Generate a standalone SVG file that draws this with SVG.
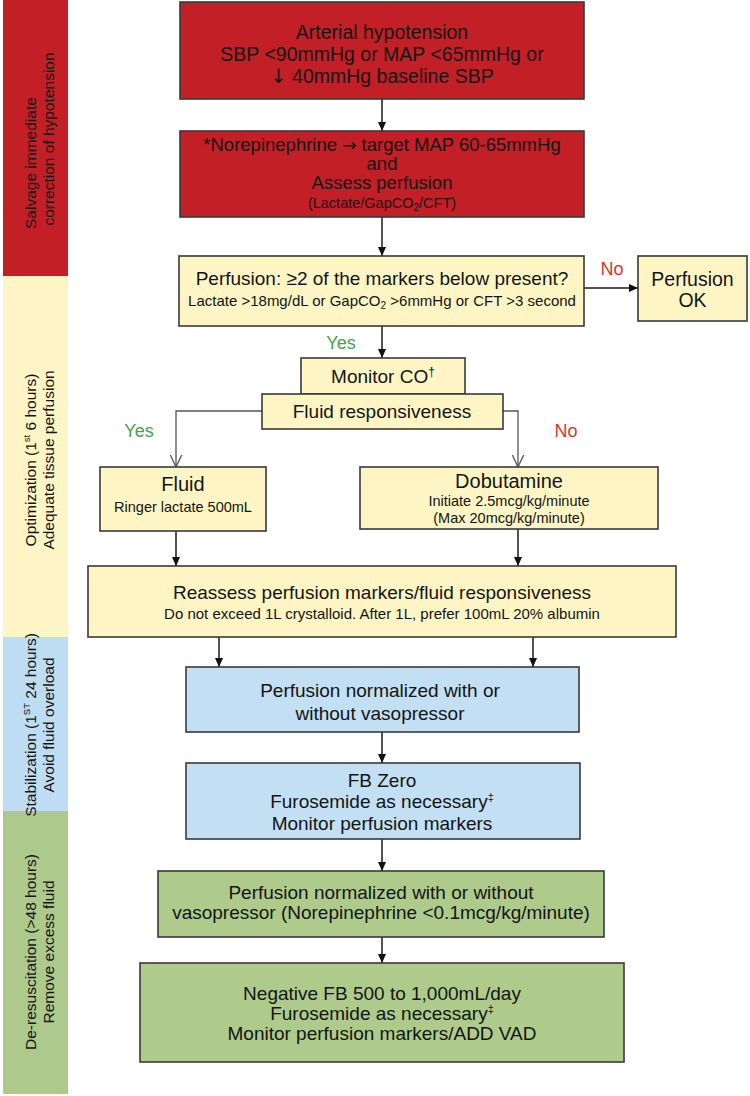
<svg xmlns="http://www.w3.org/2000/svg" width="750" height="1096" viewBox="0 0 750 1096">
<defs>
<style>
text{font-family:"Liberation Sans",Arial,sans-serif;fill:#141414;text-anchor:middle}
.ar{font-family:"DejaVu Sans",sans-serif}
.bx{stroke:#3a3a3a;stroke-width:1.6}
.red{fill:#C21F26}
.yel{fill:#FDF6C4}
.blu{fill:#C3DFF3}
.grn{fill:#AECB8C}
.t19{font-size:19px}
.t18{font-size:18.5px}
.t15{font-size:15px}
.t14{font-size:14.5px}
.side{font-size:15.5px}
.yes{fill:#4AA050;font-size:18px}
.no{fill:#D8352A;font-size:18px}
.cn{stroke:#1a1a1a;stroke-width:1.5;fill:none}
.cv{stroke:#555;stroke-width:1.3;fill:none}
</style>
<marker id="ah" viewBox="0 0 10 10" refX="10" refY="5" markerWidth="9" markerHeight="9" markerUnits="userSpaceOnUse" orient="auto"><path d="M0,0.5 L10,5 L0,9.5 z" fill="#111"/></marker>
<marker id="av" viewBox="0 0 10 10" refX="9.5" refY="5" markerWidth="13" markerHeight="13" markerUnits="userSpaceOnUse" orient="auto"><path d="M0,0.5 L9.5,5 L0,9.5" fill="none" stroke="#555" stroke-width="1"/></marker>
</defs>
<rect width="750" height="1096" fill="#ffffff"/>

<g id="sidebar">
<rect x="3" y="0" width="65" height="276" class="red"/>
<rect x="3" y="276" width="65" height="361" fill="#FEF5C6"/>
<rect x="3" y="637" width="65" height="174" fill="#BFDDF2"/>
<rect x="3" y="811" width="65" height="283" fill="#ADC98B"/>
<text class="side" transform="translate(0,229) rotate(-90)" style="text-anchor:start" x="0" y="36">Salvage immediate</text>
<text class="side" transform="translate(0,139) rotate(-90)" x="0" y="54">correction of hypotension</text>
<text class="side" transform="translate(0,460) rotate(-90)"><tspan x="0" y="36">Optimization (1<tspan font-size="9.5" dy="-6">st</tspan><tspan dy="6"> 6 hours)</tspan></tspan><tspan x="0" y="54">Adequate tissue perfusion</tspan></text>
<text class="side" transform="translate(0,725) rotate(-90)"><tspan x="0" y="36">Stabilization (1<tspan font-size="9.5" dy="-6">ST</tspan><tspan dy="6"> 24 hours)</tspan></tspan><tspan x="0" y="54">Avoid fluid overload</tspan></text>
<text class="side" transform="translate(0,952) rotate(-90)"><tspan x="0" y="36">De-resuscitation (&gt;48 hours)</tspan><tspan x="0" y="54">Remove excess fluid</tspan></text>
</g>

<g id="connectors">
<line class="cn" x1="382" y1="99" x2="382" y2="131" marker-end="url(#ah)"/>
<line class="cn" x1="382" y1="217" x2="382" y2="256" marker-end="url(#ah)"/>
<line class="cn" x1="584" y1="288" x2="638" y2="288" marker-end="url(#ah)"/>
<line class="cn" x1="382" y1="326" x2="382" y2="358" marker-end="url(#ah)"/>
<polyline class="cv" points="262,411 176,411 176,467" marker-end="url(#av)"/>
<polyline class="cv" points="503,411 518,411 518,467" marker-end="url(#av)"/>
<line class="cn" x1="176" y1="531" x2="176" y2="566" marker-end="url(#ah)"/>
<line class="cn" x1="518" y1="529" x2="518" y2="566" marker-end="url(#ah)"/>
<line class="cn" x1="219" y1="637" x2="219" y2="667" marker-end="url(#ah)"/>
<line class="cn" x1="533" y1="637" x2="533" y2="667" marker-end="url(#ah)"/>
<line class="cn" x1="382" y1="732" x2="382" y2="763" marker-end="url(#ah)"/>
<line class="cn" x1="382" y1="839" x2="382" y2="871" marker-end="url(#ah)"/>
<line class="cn" x1="382" y1="937" x2="382" y2="963" marker-end="url(#ah)"/>
<text class="no" x="612" y="275">No</text>
<text class="yes" x="341" y="349">Yes</text>
<text class="yes" x="139" y="437">Yes</text>
<text class="no" x="566" y="437">No</text>
</g>

<g id="n-hypotension">
<rect x="180" y="2" width="404" height="97" class="bx red"/>
<text style="font-size:19.5px"><tspan x="382" y="39">Arterial hypotension</tspan><tspan x="382" y="61">SBP &lt;90mmHg or MAP &lt;65mmHg or</tspan><tspan x="382" y="83"><tspan class="ar">↓</tspan> 40mmHg baseline SBP</tspan></text>
</g>

<g id="n-norepinephrine">
<rect x="180" y="131" width="404" height="86" class="bx red"/>
<text class="t18"><tspan x="382" y="151">*Norepinephrine <tspan class="ar" font-size="17">→</tspan> target MAP 60-65mmHg</tspan><tspan x="382" y="170">and</tspan><tspan x="382" y="189">Assess perfusion</tspan></text>
<text class="t14" x="382" y="208">(Lactate/GapCO<tspan font-size="10" dy="3">2</tspan><tspan dy="-3">/CFT)</tspan></text>
</g>

<g id="n-perfusion-check">
<rect x="179" y="256" width="405" height="70" class="bx yel"/>
<text class="t19" x="382" y="285">Perfusion: ≥2 of the markers below present?</text>
<text class="t15" x="382" y="306">Lactate &gt;18mg/dL or GapCO<tspan font-size="10" dy="3">2</tspan><tspan dy="-3"> &gt;6mmHg or CFT &gt;3 second</tspan></text>
</g>

<g id="n-perfusion-ok">
<rect x="638" y="256" width="109" height="65" class="bx yel"/>
<text style="font-size:19.5px"><tspan x="692.5" y="286">Perfusion</tspan><tspan x="692.5" y="307">OK</tspan></text>
</g>

<g id="n-monitor-co">
<rect x="301" y="358" width="164" height="36" class="bx yel"/>
<text class="t19" x="383" y="383">Monitor CO<tspan font-size="12" dy="-7">†</tspan></text>
</g>

<g id="n-fluid-responsiveness">
<rect x="262" y="394" width="241" height="35" class="bx yel"/>
<text class="t19" x="382" y="418">Fluid responsiveness</text>
</g>

<g id="n-fluid">
<rect x="100" y="467" width="166" height="64" class="bx yel"/>
<text style="font-size:20px" x="183" y="491">Fluid</text>
<text class="t14" x="183" y="512">Ringer lactate 500mL</text>
</g>

<g id="n-dobutamine">
<rect x="360" y="467" width="298" height="62" class="bx yel"/>
<text style="font-size:20px" x="509" y="488">Dobutamine</text>
<text class="t14"><tspan x="509" y="506">Initiate 2.5mcg/kg/minute</tspan><tspan x="509" y="523">(Max 20mcg/kg/minute)</tspan></text>
</g>

<g id="n-reassess">
<rect x="88" y="566" width="588" height="71" class="bx yel"/>
<text class="t19" x="382" y="599">Reassess perfusion markers/fluid responsiveness</text>
<text class="t15" x="382" y="619">Do not exceed 1L crystalloid. After 1L, prefer 100mL 20% albumin</text>
</g>

<g id="n-normalized-1">
<rect x="186" y="667" width="393" height="65" class="bx blu"/>
<text class="t19"><tspan x="380" y="697">Perfusion normalized with or</tspan><tspan x="380" y="720">without vasopressor</tspan></text>
</g>

<g id="n-fb-zero">
<rect x="186" y="763" width="394" height="76" class="bx blu"/>
<text class="t19"><tspan x="382" y="787">FB Zero</tspan><tspan x="382" y="808">Furosemide as necessary<tspan font-size="11" dy="-7">‡</tspan></tspan><tspan x="382" y="830">Monitor perfusion markers</tspan></text>
</g>

<g id="n-normalized-2">
<rect x="158" y="871" width="446" height="66" class="bx grn"/>
<text class="t19"><tspan x="381" y="899">Perfusion normalized with or without</tspan><tspan x="381" y="919">vasopressor (Norepinephrine &lt;0.1mcg/kg/minute)</tspan></text>
</g>

<g id="n-negative-fb">
<rect x="140" y="963" width="484" height="99" class="bx grn"/>
<text class="t19"><tspan x="382" y="1000">Negative FB 500 to 1,000mL/day</tspan><tspan x="382" y="1020">Furosemide as necessary<tspan font-size="11" dy="-7">‡</tspan></tspan><tspan x="382" y="1040">Monitor perfusion markers/ADD VAD</tspan></text>
</g>
</svg>
